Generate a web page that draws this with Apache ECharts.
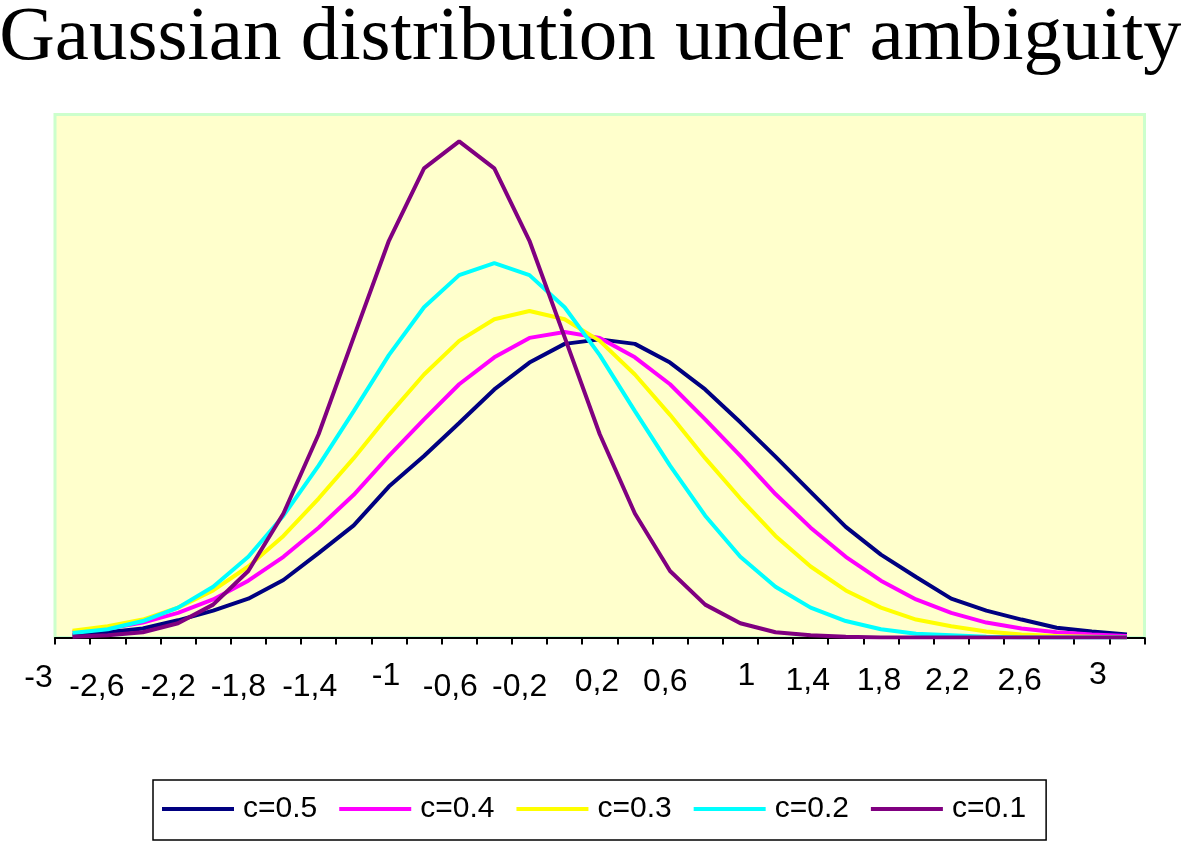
<!DOCTYPE html>
<html><head><meta charset="utf-8">
<script src="https://cdn.jsdelivr.net/npm/echarts@6/dist/echarts.min.js"></script>
<style>html,body{margin:0;padding:0;background:#fff}#c{width:1181px;height:845px}</style>
</head><body><div id="c"></div>
<script>
// x categories (-3 .. 3, step 0.2), written with decimal comma
const categories = ['-3','-2,8','-2,6','-2,4','-2,2','-2','-1,8','-1,6','-1,4','-1,2','-1','-0,8','-0,6','-0,4','-0,2','0','0,2','0,4','0,6','0,8','1','1,2','1,4','1,6','1,8','2','2,2','2,4','2,6','2,8','3'];

const seriesNames = ['c=0.5','c=0.4','c=0.3','c=0.2','c=0.1'];

const c05 = [0.003,0.007,0.012,0.023,0.036,0.052,0.077,0.113,0.150,0.202,0.243,0.287,0.332,0.368,0.393,0.399,0.393,0.368,0.332,0.288,0.242,0.195,0.148,0.111,0.081,0.052,0.036,0.024,0.013,0.008,0.004];
const c04 = [0.007,0.012,0.020,0.033,0.051,0.076,0.108,0.147,0.191,0.243,0.292,0.339,0.375,0.401,0.409,0.401,0.375,0.339,0.292,0.243,0.192,0.147,0.108,0.076,0.051,0.033,0.020,0.012,0.007,0.004,0.002];
const c03 = [0.009,0.015,0.024,0.040,0.063,0.095,0.136,0.186,0.240,0.298,0.352,0.397,0.426,0.437,0.426,0.397,0.352,0.298,0.240,0.186,0.136,0.095,0.063,0.040,0.024,0.015,0.008,0.004,0.002,0.001,0.000];
const c02 = [0.006,0.011,0.022,0.040,0.068,0.108,0.163,0.230,0.303,0.378,0.442,0.485,0.501,0.485,0.442,0.378,0.303,0.230,0.163,0.108,0.068,0.040,0.022,0.011,0.005,0.003,0.001,0.000,0.000,0.000,0.000];
const c01 = [0.001,0.003,0.007,0.019,0.044,0.089,0.166,0.272,0.402,0.531,0.628,0.664,0.628,0.531,0.402,0.272,0.166,0.089,0.044,0.019,0.007,0.003,0.001,0.000,0.000,0.000,0.000,0.000,0.000,0.000,0.000];

// styling (not data)
const colors = ['#000080','#FF00FF','#FFFF00','#00FFFF','#800080'];
const labelDx = [-34,-46,-45,-45,-44,-38,-44,-45,-38,-40,-29,-38,-37,-39,-37,-29];
const labelDy = [3,12,12,12,12,1,12,12,7,7,1,6,6,6,6,0];

const rich = {};
labelDx.forEach((dx, k) => {
  rich['l' + k] = {
    fontSize: 32, fontFamily: 'Liberation Sans', color: '#000',
    padding: [labelDy[k], dx < 0 ? -2 * dx : 0, 0, dx > 0 ? 2 * dx : 0]
  };
});

const allData = [c05, c04, c03, c02, c01];
const chart = echarts.init(document.getElementById('c'), null, {renderer: 'canvas'});
chart.setOption({
  animation: false,
  backgroundColor: '#FFFFFF',
  title: {
    text: 'Gaussian distribution under ambiguity',
    left: 'center', top: 0, padding: 0,
    textStyle: {fontFamily: 'Liberation Serif', fontSize: 77, fontWeight: 'normal', color: '#000'}
  },
  grid: {
    left: 55, right: 36.5, top: 114.5, bottom: 207.5,
    show: true, backgroundColor: '#FFFFCC', borderColor: '#CCFFCC', borderWidth: 3
  },
  legend: {
    data: seriesNames, left: 153, top: 780, orient: 'horizontal',
    icon: 'rect', itemWidth: 72, itemHeight: 4, itemGap: 22,
    padding: [14, 20, 16, 9],
    borderColor: '#000', borderWidth: 1.5,
    textStyle: {fontSize: 30, fontFamily: 'Liberation Sans', color: '#000', width: 76, padding: [0, 0, 0, 4]}
  },
  xAxis: {
    type: 'category', data: categories, boundaryGap: true, offset: 2.5,
    axisLine: {lineStyle: {color: '#000', width: 2}},
    axisTick: {show: true, interval: 0, length: 7, lineStyle: {color: '#000', width: 2}},
    axisLabel: {
      interval: 1, margin: 19, fontSize: 32, fontFamily: 'Liberation Sans', color: '#000',
      formatter: (v, i) => '{l' + Math.floor(i / 2) + '|' + v + '}',
      rich: rich
    },
    splitLine: {show: false}
  },
  yAxis: {type: 'value', min: 0, max: 0.7, show: false, splitLine: {show: false}},
  series: allData.map((d, k) => ({
    name: seriesNames[k], type: 'line', data: d, symbol: 'none', showSymbol: false,
    lineStyle: {color: colors[k], width: 4}, itemStyle: {color: colors[k]}
  }))
});
</script></body></html>
